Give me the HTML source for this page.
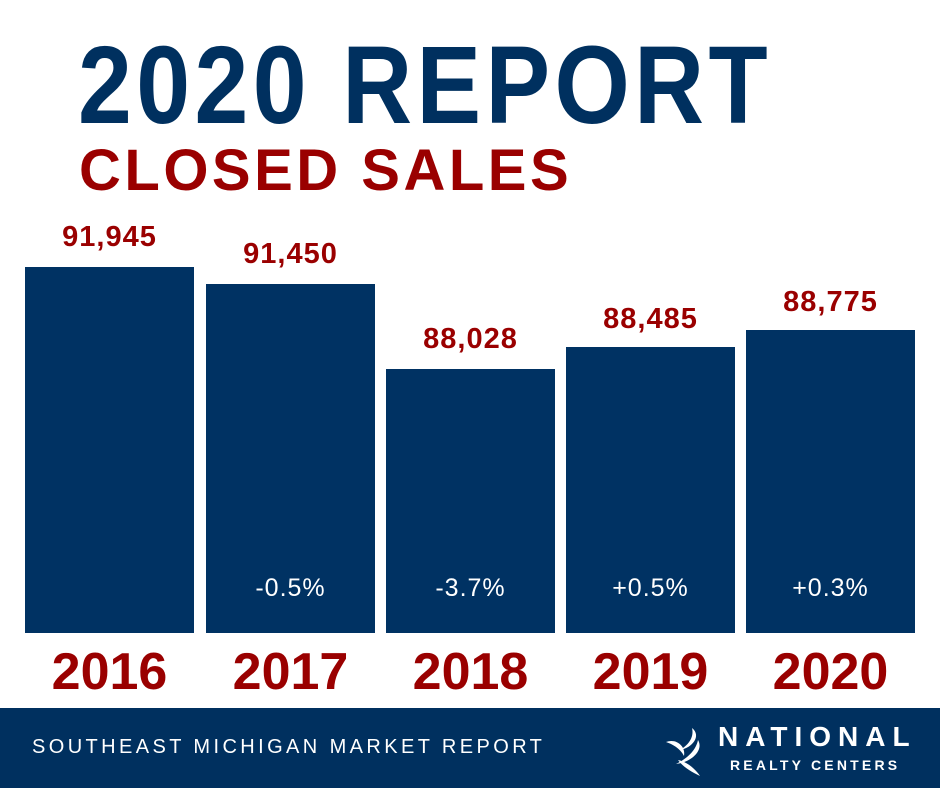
<!DOCTYPE html>
<html><head><style>
body{margin:0;width:940px;height:788px;background:#fff;position:relative;overflow:hidden;font-family:"Liberation Sans",sans-serif}
.t1{position:absolute;left:78px;top:26px;font-size:110px;font-weight:bold;color:#00305f;letter-spacing:5px;line-height:120px;white-space:nowrap;transform:scaleX(0.88);transform-origin:left top}
.t2{position:absolute;left:79px;top:138px;font-size:58px;font-weight:bold;color:#9a0000;letter-spacing:3.5px;line-height:66px;white-space:nowrap}
.bar{position:absolute;background:#003263;width:169px;bottom:155px}
.v{position:absolute;width:169px;text-align:center;font-size:29px;font-weight:bold;color:#9a0000;letter-spacing:1px}
.p{position:absolute;width:169px;text-align:center;font-size:25px;color:#fff;top:574px;letter-spacing:1px}
.y{position:absolute;width:169px;text-align:center;font-size:52px;font-weight:bold;color:#9a0000;top:642px;line-height:60px}
.foot{position:absolute;left:0;top:708px;width:940px;height:80px;background:#00305f}
</style></head><body>
<div class="t1">2020 REPORT</div>
<div class="t2">CLOSED SALES</div>

<div class="bar" style="left:25px;top:267px"></div>
<div class="bar" style="left:206px;top:284px"></div>
<div class="bar" style="left:386px;top:369px"></div>
<div class="bar" style="left:566px;top:347px"></div>
<div class="bar" style="left:746px;top:330px"></div>

<div class="v" style="left:25px;top:221px">91,945</div>
<div class="v" style="left:206px;top:238px">91,450</div>
<div class="v" style="left:386px;top:323px">88,028</div>
<div class="v" style="left:566px;top:303px">88,485</div>
<div class="v" style="left:746px;top:286px">88,775</div>

<div class="p" style="left:206px">-0.5%</div>
<div class="p" style="left:386px">-3.7%</div>
<div class="p" style="left:566px">+0.5%</div>
<div class="p" style="left:746px">+0.3%</div>

<div class="y" style="left:25px">2016</div>
<div class="y" style="left:206px">2017</div>
<div class="y" style="left:386px">2018</div>
<div class="y" style="left:566px">2019</div>
<div class="y" style="left:746px">2020</div>

<div class="foot">
<div style="position:absolute;left:32px;top:28px;color:#fff;font-size:20px;letter-spacing:3.4px;white-space:nowrap">SOUTHEAST MICHIGAN MARKET REPORT</div>
<svg style="position:absolute;left:662px;top:18px" width="50" height="52" viewBox="0 0 50 52">
<path d="M30 2 C40 10 30 22 18 24 C28 18 32 10 30 2Z" fill="#fff"/>
<path d="M4 16 C14 12 24 20 22 30 C18 22 10 18 4 16Z" fill="#fff"/>
<path d="M36 14 C42 24 30 36 14 38 C26 32 34 24 36 14Z" fill="#fff"/>
<path d="M16 34 C26 36 34 44 38 50 C30 46 22 42 16 34Z" fill="#fff"/>
</svg>
<div style="position:absolute;left:718px;top:13px;color:#fff;font-size:28px;font-weight:bold;letter-spacing:7px;white-space:nowrap">NATIONAL</div>
<div style="position:absolute;left:730px;top:49px;color:#fff;font-size:14px;font-weight:bold;letter-spacing:3.2px;white-space:nowrap">REALTY CENTERS</div>
</div>
</body></html>
